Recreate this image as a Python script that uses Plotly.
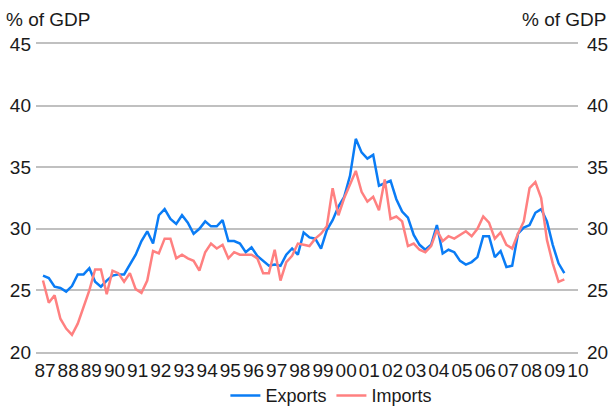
import plotly.graph_objects as go

# Quarterly trade ratios, 1987Q1 - 2009Q3
start_year = 1987
exports = [
    26.2, 26.0, 25.3, 25.2, 24.9, 25.35, 26.3, 26.3, 26.8, 25.7, 25.3, 25.8,
    26.2, 26.3, 26.3, 27.1, 27.9, 29.0, 29.8, 28.8, 31.1, 31.6, 30.8, 30.4,
    31.1, 30.5, 29.6, 30.0, 30.6, 30.2, 30.2, 30.7, 29.0, 29.0, 28.8, 28.1,
    28.5, 27.8, 27.4, 27.0, 27.1, 27.0, 27.9, 28.4, 27.9, 29.7, 29.3, 29.2,
    28.4, 29.9, 30.7, 31.8, 32.6, 34.3, 37.3, 36.2, 35.7, 36.0, 33.5, 33.7,
    33.9, 32.4, 31.4, 30.9, 29.5, 28.7, 28.3, 28.7, 30.3, 28.0, 28.3, 28.1,
    27.4, 27.1, 27.3, 27.7, 29.4, 29.4, 27.7, 28.2, 26.9, 27.0, 29.6, 30.1,
    30.3, 31.3, 31.6, 30.6, 28.7, 27.2, 26.4,
]
imports = [
    25.8, 24.0, 24.6, 22.7, 21.9, 21.4, 22.3, 23.6, 25.0, 26.7, 26.7, 24.7,
    26.6, 26.4, 25.7, 26.4, 25.1, 24.8, 25.8, 28.2, 28.0, 29.2, 29.2, 27.6,
    27.9, 27.6, 27.4, 26.6, 28.1, 28.8, 28.4, 28.7, 27.6, 28.1, 27.9, 27.9,
    27.9, 27.6, 26.4, 26.4, 28.3, 25.8, 27.3, 27.8, 28.8, 28.7, 28.6, 29.2,
    29.6, 30.2, 33.3, 31.1, 32.5, 33.6, 34.7, 33.0, 32.2, 32.6, 31.5, 34.0,
    30.8, 31.0, 30.6, 28.6, 28.8, 28.3, 28.1, 28.6, 29.9, 29.0, 29.4, 29.2,
    29.5, 29.8, 29.4, 30.0, 31.0, 30.5, 29.2, 29.7, 28.7, 28.4, 29.6, 30.6,
    33.3, 33.8, 32.5, 29.1, 27.2, 25.7, 25.9,
]
year_labels = ["87", "88", "89", "90", "91", "92", "93", "94", "95", "96", "97", "98",
               "99", "00", "01", "02", "03", "04", "05", "06", "07", "08", "09", "10"]
y_ticks = [20, 25, 30, 35, 40, 45]

t = [start_year + i / 4 for i in range(len(exports))]
year_pos = [start_year + k + 0.085 for k in range(len(year_labels))]

FONT = "Liberation Sans, Arial, sans-serif"
TXT = "#1a1a1a"
BLUE = "#0A7CF5"
RED = "#FF8080"
GRID = "#C0C0C0"

fig = go.Figure()
fig.add_trace(go.Scatter(x=t, y=exports, mode="lines", name="Exports",
                         line=dict(color=BLUE, width=2.5)))
fig.add_trace(go.Scatter(x=t, y=imports, mode="lines", name="Imports",
                         line=dict(color=RED, width=2.5)))

# unit captions above both value scales
annotations = [
    dict(text="% of GDP", xref="paper", yref="paper", x=0, y=1, xshift=-32,
         yshift=12, xanchor="left", yanchor="bottom", showarrow=False,
         font=dict(size=19)),
    dict(text="% of GDP", xref="paper", yref="paper", x=1, y=1, xshift=30,
         yshift=12, xanchor="right", yanchor="bottom", showarrow=False,
         font=dict(size=19)),
]
# mirrored value scale on the right-hand side
for v in y_ticks:
    annotations.append(dict(text=str(v), xref="paper", yref="y", x=1, y=v,
                            xshift=7, xanchor="left", yanchor="middle",
                            showarrow=False, font=dict(size=19)))

fig.update_layout(
    template="none",
    width=610, height=408,
    margin=dict(l=36, r=32, t=44, b=56, autoexpand=False),
    paper_bgcolor="white", plot_bgcolor="white",
    font=dict(family=FONT, size=19, color=TXT),
    showlegend=True,
    legend=dict(orientation="h", x=0.545, xanchor="center",
                yref="container", y=0.03, yanchor="middle",
                font=dict(size=18), itemwidth=30, tracegroupgap=0,
                bgcolor="rgba(0,0,0,0)"),
    # the x-axis line (mirrored) supplies the rules at 20 and 45
    xaxis=dict(range=[1986.698, 2010.09], tickmode="array", tickvals=year_pos,
               ticktext=year_labels, tickangle=0, showgrid=False, zeroline=False,
               showline=True, mirror=True, linecolor=GRID, linewidth=1.5,
               ticks="", tickfont=dict(size=19), ticklabelstandoff=0),
    yaxis=dict(range=[20, 45], tickmode="array", tickvals=y_ticks, showgrid=True,
               gridcolor=GRID, gridwidth=1.5, zeroline=False, showline=False,
               ticks="", layer="below traces",
               tickfont=dict(size=19), ticklabelstandoff=4),
    annotations=annotations,
)

fig.write_html("out.html")
